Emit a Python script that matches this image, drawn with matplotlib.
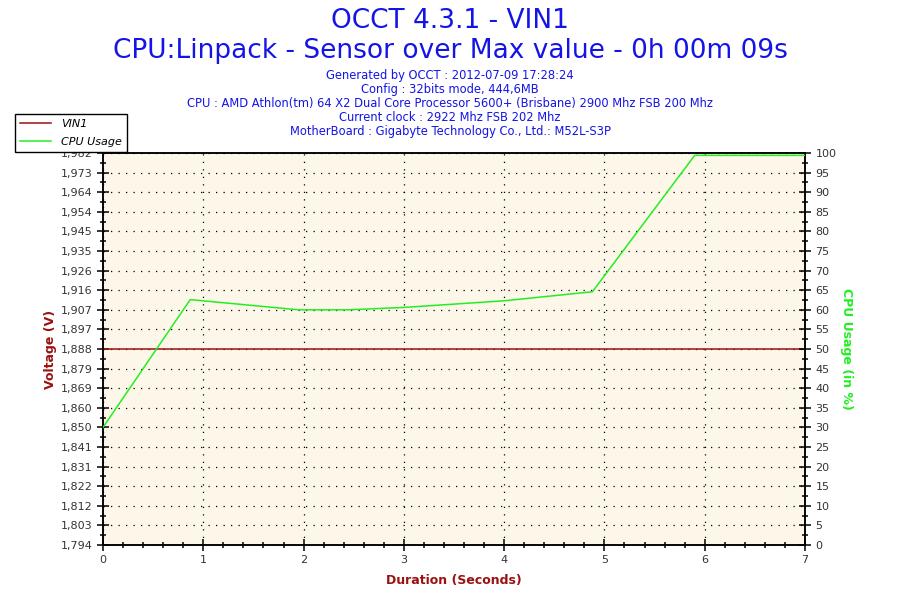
import numpy as np
from matplotlib import pyplot as plt
from matplotlib.ticker import MultipleLocator, FixedLocator

# data
vin1_t = [0.0, 7.0]
vin1_v = [1.888, 1.888]
cpu_t = [0.0, 0.87, 1.95, 2.45, 3.0, 4.0, 4.88, 5.9, 7.0]
cpu_pct = [30.0, 62.6, 60.0, 60.0, 60.6, 62.3, 64.6, 99.4, 99.4]

volt_ticks = [
    "1,794", "1,803", "1,812", "1,822", "1,831", "1,841", "1,850",
    "1,860", "1,869", "1,879", "1,888", "1,897", "1,907", "1,916",
    "1,926", "1,935", "1,945", "1,954", "1,964", "1,973", "1,982",
]
volt_lo, volt_hi = 1.7936, 1.9824

info_lines = [
    "Generated by OCCT : 2012-07-09 17:28:24",
    "Config : 32bits mode, 444,6MB",
    "CPU : AMD Athlon(tm) 64 X2 Dual Core Processor 5600+ (Brisbane) 2900 Mhz FSB 200 Mhz",
    "Current clock : 2922 Mhz FSB 202 Mhz",
    "MotherBoard : Gigabyte Technology Co., Ltd.: M52L-S3P",
]

blue = "#1414e6"
red = "#9b1111"
green = "#22ee22"
tick_col = "#333333"

fig = plt.figure(figsize=(9, 6), dpi=100)
ax = fig.add_axes((103 / 900, 1 - 545 / 600, 702 / 900, 392 / 600))
ax.set_facecolor("#fdf7e9")

fig.text(0.5, 1 - 21 / 600, "OCCT 4.3.1 - VIN1", ha="center", va="center",
         fontsize=19, color=blue)
fig.text(0.5, 1 - 51 / 600, "CPU:Linpack - Sensor over Max value - 0h 00m 09s",
         ha="center", va="center", fontsize=19, color=blue)
for i, line in enumerate(info_lines):
    fig.text(0.5, 1 - (76 + 13.8 * i) / 600, line, ha="center", va="center",
             fontsize=8.3, color=blue)

# voltage axis
(l1,) = ax.plot(vin1_t, vin1_v, color=red, lw=1.1, label="VIN1", zorder=3)
ax.set_xlim(0, 7)
ax.set_ylim(volt_lo, volt_hi)
vt = np.linspace(volt_lo, volt_hi, len(volt_ticks))
ax.yaxis.set_major_locator(FixedLocator(vt))
ax.set_yticklabels(volt_ticks)
ax.yaxis.set_minor_locator(FixedLocator((vt[:-1] + vt[1:]) / 2))
ax.xaxis.set_major_locator(MultipleLocator(1))
ax.xaxis.set_minor_locator(MultipleLocator(0.2))
ax.grid(True, which="major", color="black", linestyle=(0, (1, 5)), lw=0.9)
ax.set_xlabel("Duration (Seconds)", color=red, fontweight="bold", fontsize=9,
              labelpad=6)
ax.set_ylabel("Voltage (V)", color=red, fontweight="bold", fontsize=9,
              labelpad=3)

# cpu axis
ax2 = ax.twinx()
(l2,) = ax2.plot(cpu_t, cpu_pct, color=green, lw=1.1, label="CPU Usage",
                 zorder=3)
ax2.set_ylim(0, 100)
ax2.yaxis.set_major_locator(MultipleLocator(5))
ax2.yaxis.set_minor_locator(MultipleLocator(2.5))
ax2.set_ylabel("CPU Usage (in %)", color=green, fontweight="bold", fontsize=9,
               rotation=270, labelpad=12)

for a in (ax, ax2):
    a.tick_params(which="major", direction="inout", length=9, width=1.1,
                  labelsize=8, labelcolor=tick_col, pad=3)
    a.tick_params(which="minor", direction="inout", length=4.5, width=1.1)
    for s in a.spines.values():
        s.set_color("black")
        s.set_linewidth(1.1)

leg = fig.legend(handles=[l1, l2], loc="upper left",
                 bbox_to_anchor=(15 / 900, 1 - 114 / 600),
                 prop={"style": "italic", "size": 8}, frameon=True,
                 fancybox=False, framealpha=1, edgecolor="black",
                 handlelength=2.8, handletextpad=0.9, borderpad=0.45,
                 labelspacing=0.7, borderaxespad=0)
leg.get_frame().set_linewidth(1.0)
leg.set_zorder(10)

fig.savefig("out.png", dpi=100, facecolor="white")
